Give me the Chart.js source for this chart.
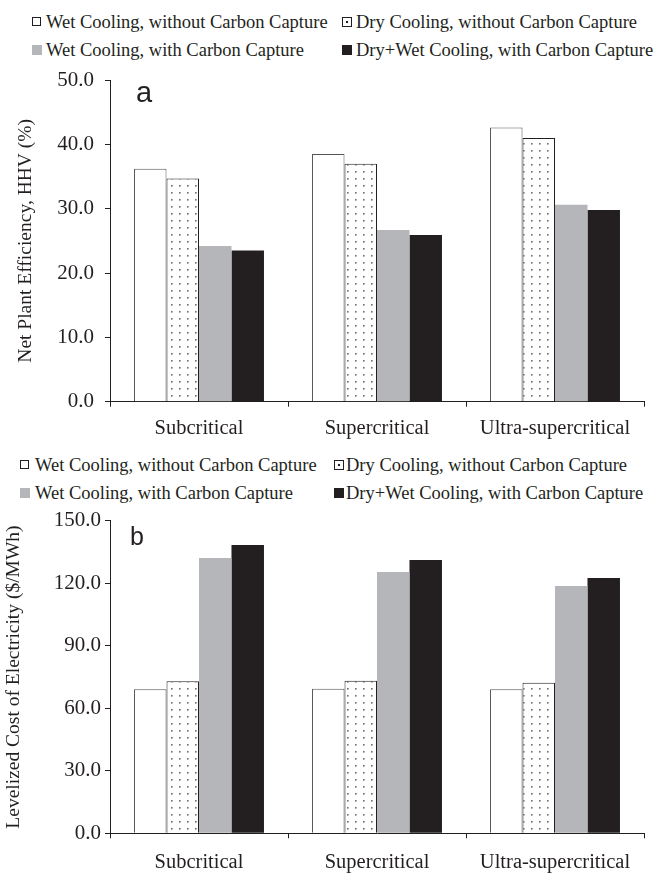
<!DOCTYPE html>
<html>
<head>
<meta charset="utf-8">
<script src="https://cdn.jsdelivr.net/npm/chart.js@4"></script>
<style>
  body { margin: 0; background: #fff; }
  #page { position: relative; width: 660px; height: 873px; overflow: hidden; color: #231f20; }
  canvas { position: absolute; left: 0; }
  .item { position: absolute; font-family: "Liberation Serif", "DejaVu Serif", serif; font-size: 18.5px; line-height: 22px; white-space: nowrap; color: #231f20; }
  .box { position: absolute; width: 10px; height: 10px; box-sizing: border-box; }
  .tag { position: absolute; font-family: "Liberation Sans", Arial, sans-serif; color: #231f20; line-height: 1; }
</style>
</head>
<body>
<div id="page">
  <div id="legendA"></div>
  <canvas id="chartA" width="660" height="440" style="top:0"></canvas>
  <div class="tag" style="left:136px; top:78px; font-size:29px;">a</div>

  <div id="legendB"></div>
  <canvas id="chartB" width="660" height="433" style="top:440px"></canvas>
  <div class="tag" style="left:130px; top:524px; font-size:25px;">b</div>
</div>
<script>
const categories = ["Subcritical", "Supercritical", "Ultra-supercritical"];
const seriesNames = [
  "Wet Cooling, without Carbon Capture",
  "Dry Cooling, without Carbon Capture",
  "Wet Cooling, with Carbon Capture",
  "Dry+Wet Cooling, with Carbon Capture",
];

// panel a: net plant efficiency, HHV (%)
const effWetNoCC = [36.2, 38.5, 42.6];
const effDryNoCC = [34.7, 37.0, 41.0];
const effWetCC = [24.2, 26.7, 30.6];
const effDryWetCC = [23.5, 25.9, 29.8];

// panel b: levelized cost of electricity ($/MWh)
const coeWetNoCC = [69.1, 69.4, 69.1];
const coeDryNoCC = [73.0, 73.2, 72.3];
const coeWetCC = [132.1, 125.4, 118.7];
const coeDryWetCC = [138.4, 131.2, 122.6];

const INK = "#231f20";
const GRAY = "#b5b6ba";
const SERIF = "'Liberation Serif', 'Times New Roman', serif";

function dotPattern() {
  const c = document.createElement("canvas");
  c.width = 8;
  c.height = 7;
  const g = c.getContext("2d");
  g.fillStyle = "#fff";
  g.fillRect(0, 0, 8, 7);
  g.fillStyle = "#6d6e71";
  g.fillRect(3, 3, 1.6, 1.6);
  return g.createPattern(c, "repeat");
}

function makeDatasets(a, b, c, d, pattern) {
  return [
    { label: seriesNames[0], data: a, backgroundColor: "#fff", borderColor: "#555", borderWidth: 1 },
    { label: seriesNames[1], data: b, backgroundColor: pattern, borderColor: INK, borderWidth: 1 },
    { label: seriesNames[2], data: c, backgroundColor: GRAY, borderWidth: 0 },
    { label: seriesNames[3], data: d, backgroundColor: INK, borderWidth: 0 },
  ];
}

function makeChart(id, data, opts) {
  const ctx = document.getElementById(id).getContext("2d");
  return new Chart(ctx, {
    type: "bar",
    data: {
      labels: categories,
      datasets: makeDatasets(data[0], data[1], data[2], data[3], dotPattern()),
    },
    options: {
      responsive: false,
      animation: false,
      devicePixelRatio: 1,
      categoryPercentage: 0.73,
      barPercentage: 1.0,
      layout: { padding: { top: opts.top, right: 16, left: 0, bottom: 0 } },
      plugins: { legend: { display: false }, tooltip: { enabled: false } },
      scales: {
        x: {
          afterFit: (s) => { s.height = opts.xHeight; },
          grid: { offset: true, drawOnChartArea: false, tickLength: 5, color: INK },
          border: { color: INK, width: 1 },
          ticks: { color: INK, padding: opts.catPad, font: { family: SERIF, size: 20.5 } },
        },
        y: {
          min: 0,
          max: opts.max,
          afterFit: (s) => { s.width = 110; },
          grid: { drawOnChartArea: false, tickLength: 5, color: INK },
          border: { color: INK, width: 1 },
          ticks: {
            stepSize: opts.step,
            color: INK,
            padding: opts.tickPad,
            font: { family: SERIF, size: 21 },
            callback: (v) => v.toFixed(1),
          },
          title: {
            display: true,
            text: opts.title,
            color: INK,
            padding: { top: opts.titlePad, bottom: 0 },
            font: { family: SERIF, size: 19.5 },
          },
        },
      },
    },
  });
}

function legendBoxStyle(i) {
  if (i === 0) return "background:#fff;border:1px solid " + INK + ";width:9px;height:9px;";
  if (i === 1) return "background:radial-gradient(circle at 50% 50%, " + INK + " 1.2px, #fff 1.6px);border:1px solid " + INK + ";";
  if (i === 2) return "background:" + GRAY + ";";
  return "background:" + INK + ";";
}

function buildLegend(id, rows, cols) {
  const el = document.getElementById(id);
  let html = "";
  seriesNames.forEach((name, i) => {
    const r = Math.floor(i / 2);
    const c = cols[i % 2];
    const cy = rows[r];
    html += '<div class="box" style="left:' + c.box + "px;top:" + (cy - 5) + "px;" + legendBoxStyle(i) + '"></div>';
    html += '<div class="item" style="left:' + c.text + "px;top:" + (cy - 11) + 'px;">' + name + "</div>";
  });
  el.innerHTML = html;
}

buildLegend("legendA", [22, 50], [{ box: 32, text: 46 }, { box: 342, text: 356 }]);
buildLegend("legendB", [465, 493], [{ box: 20, text: 35 }, { box: 334, text: 346 }]);

makeChart("chartA", [effWetNoCC, effDryNoCC, effWetCC, effDryWetCC], {
  top: 80, xHeight: 38.3, max: 50, step: 10, tickPad: 11, catPad: 10, titlePad: 14,
  title: "Net Plant Efficiency, HHV (%)",
});
makeChart("chartB", [coeWetNoCC, coeDryNoCC, coeWetCC, coeDryWetCC], {
  top: 80.8, xHeight: 39.7, max: 150, step: 30, tickPad: 4, catPad: 12, titlePad: 2,
  title: "Levelized Cost of Electricity ($/MWh)",
});
</script>
</body>
</html>
